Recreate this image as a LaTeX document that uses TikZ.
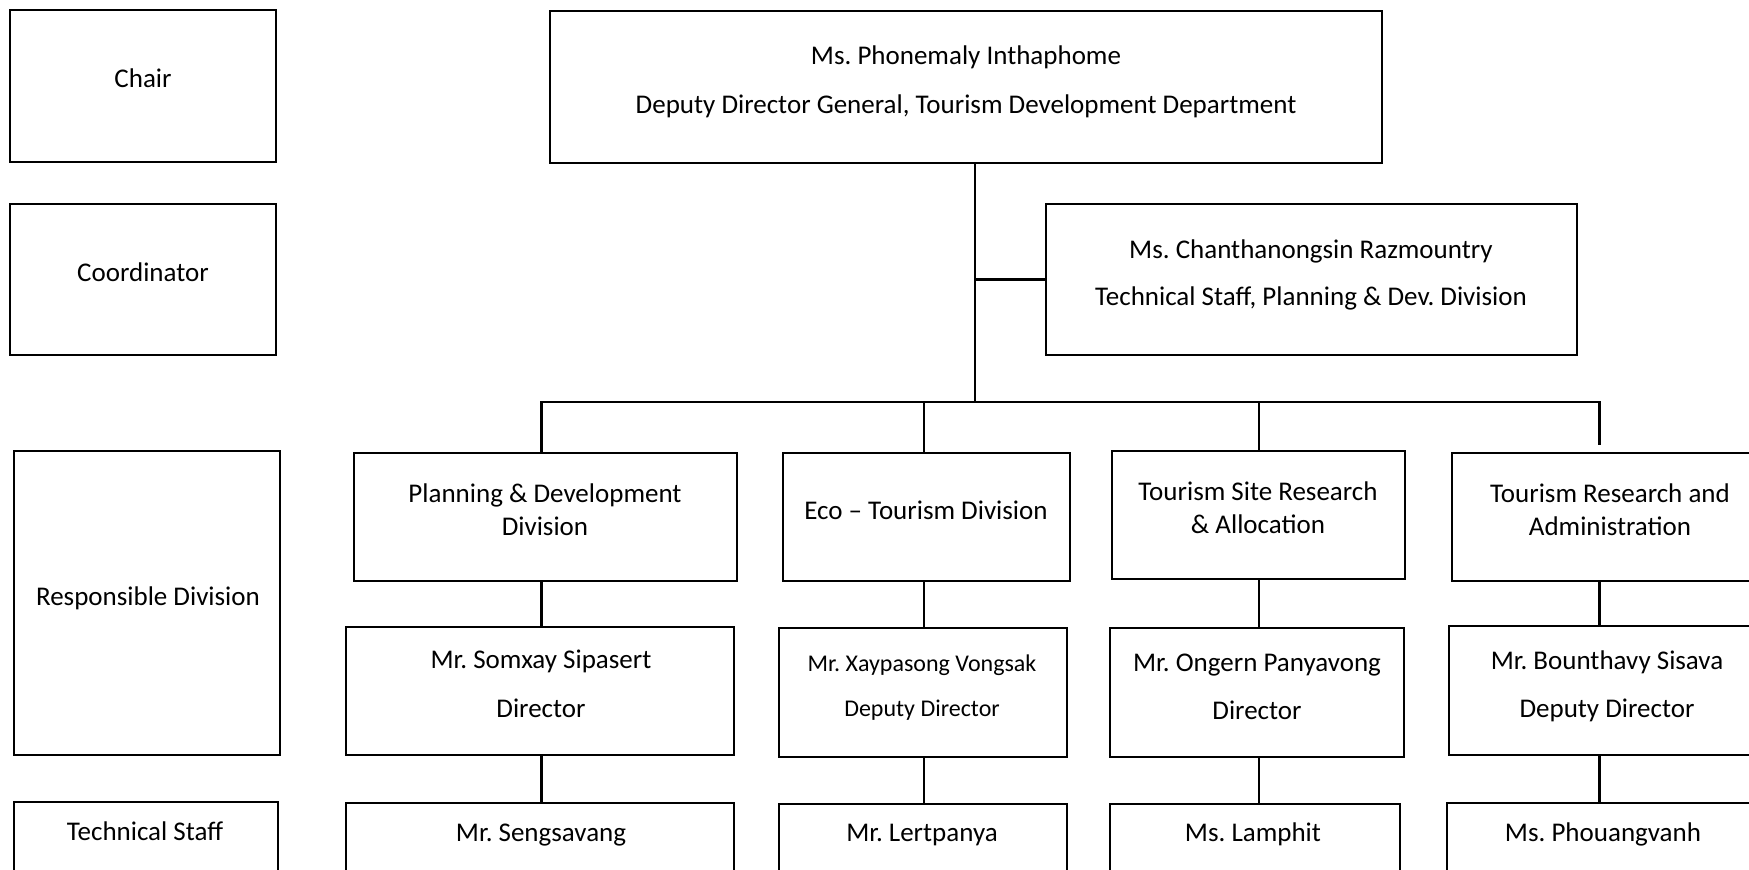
\documentclass[tikz,border=0pt]{standalone}
\usepackage{fontspec}
\setmainfont{Carlito}
\frenchspacing
\begin{document}
\begin{tikzpicture}[x=1pt,y=-1pt,
  box/.style={draw, line width=2.8pt, inner sep=0pt, minimum width=#1},
  link/.style={line width=2.2pt},
  txt/.style={anchor=base, inner sep=0pt, font=\fontsize{27}{33}\selectfont},
  small/.style={anchor=base, inner sep=0pt, font=\fontsize{24}{29}\selectfont},
]
\useasboundingbox (0,0) rectangle (1749,870);
\fill[white] (0,0) rectangle (1749,870);
\clip (0,0) rectangle (1749,870);

% left-hand role column
\node[box=266pt, minimum height=152pt] (chairL) at (143,86) {};
\node[box=266pt, minimum height=151pt] (coordL) at (143,279.5) {};
\node[box=266pt, minimum height=304pt] (respL) at (147,603) {};
\node[box=264pt, minimum height=138pt] (staffL) at (146,871) {};
\node[txt] (chairT) at (143,87) {Chair};
\node[txt] (coordT) at (143,281) {Coordinator};
\node[txt] (respT) at (148,605) {Responsible Division};
\node[txt] (staffT) at (145,840) {Technical Staff};

% chair and coordinator
\node[box=832pt, minimum height=152pt] (top) at (966,87) {};
\node[txt] (topA) at (966,64) {Ms. Phonemaly Inthaphome};
\node[txt] (topB) at (966,113) {Deputy Director General, Tourism Development Department};
\node[box=531pt, minimum height=151pt] (coord) at (1311.5,279.5) {};
\node[txt] (coordA) at (1311,258) {Ms. Chanthanongsin Razmountry};
\node[txt] (coordB) at (1311,305) {Technical Staff, Planning \& Dev. Division};

% divisions
\node[box=383pt, minimum height=128pt] (pd) at (545.5,517) {};
\node[box=287pt, minimum height=128pt] (eco) at (926.5,517) {};
\node[box=293pt, minimum height=128pt] (tsr) at (1258.5,515) {};
\node[box=318pt, minimum height=128pt] (tra) at (1611,517) {};
\node[txt] (pdA) at (545,502) {Planning \& Development};
\node[txt] (pdB) at (545,535) {Division};
\node[txt] (ecoA) at (926,519) {Eco -- Tourism Division};
\node[txt] (tsrA) at (1258,500) {Tourism Site Research};
\node[txt] (tsrB) at (1258,533) {\& Allocation};
\node[txt] (traA) at (1610,502) {Tourism Research and};
\node[txt] (traB) at (1610,535) {Administration};

% heads of division
\node[box=388pt, minimum height=128pt] (som) at (540,691) {};
\node[box=288pt, minimum height=129pt] (xay) at (923,692.5) {};
\node[box=294pt, minimum height=129pt] (ong) at (1257,692.5) {};
\node[box=324pt, minimum height=129pt] (bou) at (1611,690.5) {};
\node[txt] (somA) at (541,668) {Mr. Somxay Sipasert};
\node[txt] (somB) at (541,717) {Director};
\node[small] (xayA) at (922,671) {Mr. Xaypasong Vongsak};
\node[small] (xayB) at (922,716) {Deputy Director};
\node[txt] (ongA) at (1257,671) {Mr. Ongern Panyavong};
\node[txt] (ongB) at (1257,719) {Director};
\node[txt] (bouA) at (1607,669) {Mr. Bounthavy Sisava};
\node[txt] (bouB) at (1607,717) {Deputy Director};

% technical staff
\node[box=388pt, minimum height=138pt] (sen) at (540,872) {};
\node[box=288pt, minimum height=138pt] (ler) at (923,873) {};
\node[box=290pt, minimum height=138pt] (lam) at (1255,873) {};
\node[box=326pt, minimum height=138pt] (pho) at (1610,872) {};
\node[txt] (senA) at (541,841) {Mr. Sengsavang};
\node[txt] (lerA) at (922,841) {Mr. Lertpanya};
\node[txt] (lamA) at (1253,841) {Ms. Lamphit};
\node[txt] (phoA) at (1603,841) {Ms. Phouangvanh};

% connector columns and bar
\coordinate (trunk) at (975,402);
\coordinate (c1) at (541.5,402);
\coordinate (c2) at (924,402);
\coordinate (c3) at (1259,402);
\coordinate (c4) at (1599.5,402);

\draw[link] (trunk |- top.south) -- (trunk);
\draw[link] (trunk |- coord.west) -- (coord.west);
\draw[link, line join=miter] (c1 |- pd.north) -- (c1) -- (c4) -- ([yshift=7pt]c4 |- tra.north);
\draw[link] (c2) -- (c2 |- eco.north);
\draw[link] (c3) -- (c3 |- tsr.north);

\draw[link] (pd.south -| c1) -- (som.north -| c1);
\draw[link] (eco.south -| c2) -- (xay.north -| c2);
\draw[link] (tsr.south -| c3) -- (ong.north -| c3);
\draw[link] (tra.south -| c4) -- (bou.north -| c4);

\draw[link] (som.south -| c1) -- (sen.north -| c1);
\draw[link] (xay.south -| c2) -- (ler.north -| c2);
\draw[link] (ong.south -| c3) -- (lam.north -| c3);
\draw[link] (bou.south -| c4) -- (pho.north -| c4);
\end{tikzpicture}
\end{document}
